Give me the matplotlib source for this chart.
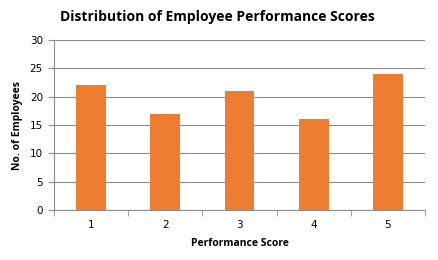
import matplotlib
matplotlib.use("Agg")
import matplotlib.pyplot as plt

# data
scores = ["1", "2", "3", "4", "5"]
employees = [22, 17, 21, 16, 24]
y_ticks = [0, 5, 10, 15, 20, 25, 30]

bar_color = "#ED7D31"
grid_color = "#8C8C8C"

fig = plt.figure(figsize=(4.39, 2.60), dpi=100)
ax = fig.add_axes([54 / 439, 50 / 260, 371 / 439, 170 / 260])

x = list(range(len(scores)))
ax.bar(x, employees, width=0.4, color=bar_color, zorder=3)

ax.set_xlim(-0.5, len(scores) - 0.5)
ax.set_ylim(0, 30)
ax.set_yticks(y_ticks)
ax.set_yticklabels([str(v) for v in y_ticks], fontsize=7.5, family="DejaVu Sans")
ax.set_xticks(x)
ax.set_xticklabels(scores, fontsize=7.5, family="DejaVu Sans")
# ticks between categories like the spreadsheet chart
ax.set_xticks([i - 0.5 for i in range(len(scores) + 1)], minor=True)
ax.tick_params(axis="x", which="major", length=0, pad=7)
ax.tick_params(axis="x", which="minor", length=4, color=grid_color, direction="out")
ax.tick_params(axis="y", length=4, color=grid_color, pad=4)

ax.grid(axis="y", color=grid_color, linewidth=0.8, zorder=0)
for side in ["top", "right"]:
    ax.spines[side].set_visible(False)
for side in ["left", "bottom"]:
    ax.spines[side].set_color(grid_color)
    ax.spines[side].set_linewidth(0.8)

ax.set_xlabel("Performance Score", fontsize=7.5, fontweight="bold", family="Open Sans", labelpad=6)
ax.set_ylabel("No. of Employees", fontsize=7.5, fontweight="bold", family="Open Sans", labelpad=5)

fig.text(217 / 439, 1 - 17 / 260, "Distribution of Employee Performance Scores",
         ha="center", va="center", fontsize=10, fontweight="bold", family="Open Sans")

fig.savefig("out.png", dpi=100)
